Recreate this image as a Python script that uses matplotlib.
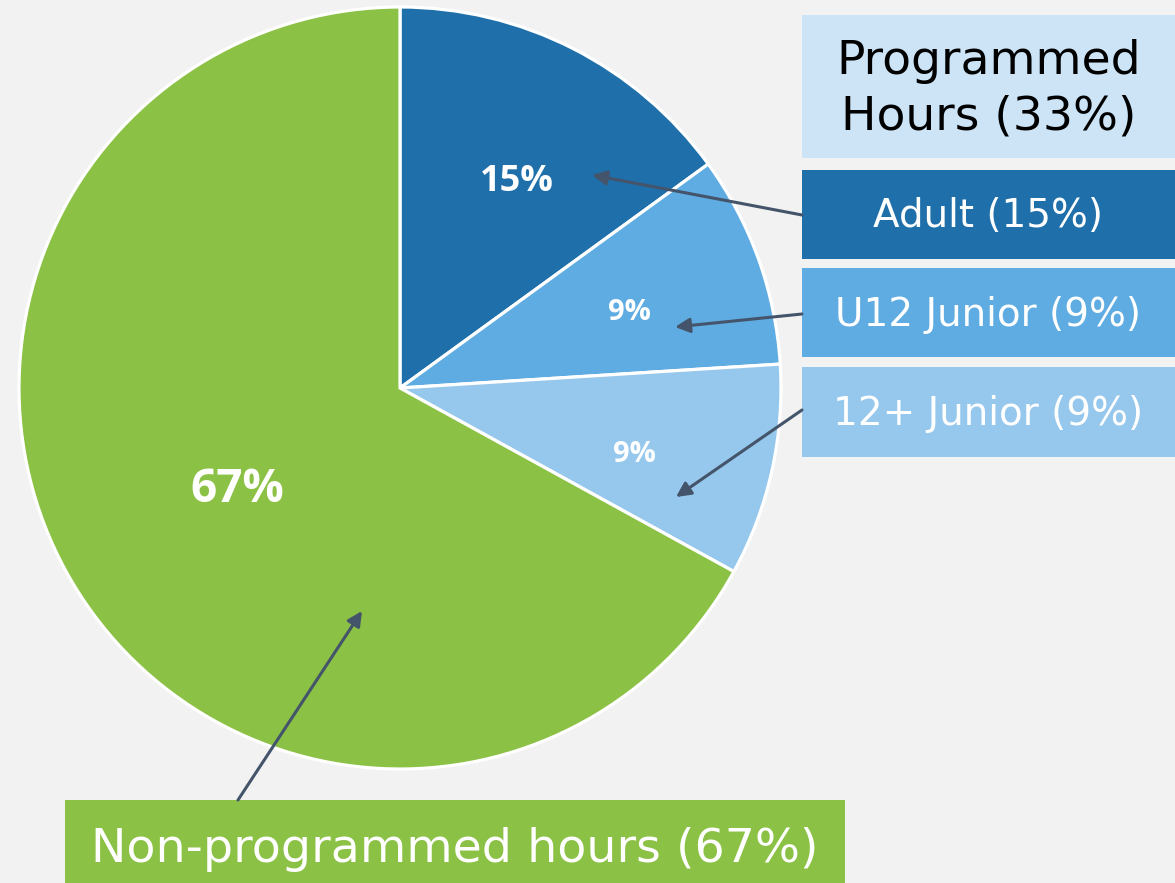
import matplotlib.pyplot as plt
from matplotlib.patches import Rectangle

H = 883

segments = ["Adult", "U12 Junior", "12+ Junior", "Non-programmed hours"]
shares = [15, 9, 9, 67]
colors = ["#1F6FAA", "#5FACE2", "#96C7EC", "#8BC145"]
pct_text = ["15%", "9%", "9%", "67%"]
box_text = ["Adult (15%)", "U12 Junior (9%)", "12+ Junior (9%)",
            "Non-programmed hours (67%)"]
header_text = "Programmed\nHours (33%)"

def py(y):
    # picture pixel row -> data y
    return H - y

fig = plt.figure(figsize=(11.75, 8.83), dpi=100, facecolor="#F2F2F2")
ax = fig.add_axes([0, 0, 1, 1])
ax.set_facecolor("#F2F2F2")

ax.pie(shares, colors=colors, startangle=90, counterclock=False,
       center=(400, py(388)), radius=381,
       wedgeprops=dict(edgecolor="white", linewidth=2.3))
ax.set_xlim(0, 1175)
ax.set_ylim(0, H)
ax.set_aspect("equal")
ax.axis("off")

# percentage labels in the slices
lab_pos = [(517, 182), (629, 312), (634, 455), (237, 490)]
lab_size = [26, 21, 21, 33]
for t, (x, y), s in zip(pct_text, lab_pos, lab_size):
    ax.text(x, py(y), t, color="white", fontsize=s, fontweight="bold",
            family="Open Sans", ha="center", va="center")

# header box
ax.add_patch(Rectangle((802, py(158)), 373, 143, color="#CCE4F6", lw=0))
ax.text(989, py(89), header_text, fontsize=34, color="black",
        ha="center", va="center", linespacing=1.3)

# right hand boxes
box_y = [(170, 259), (268, 357), (367, 457)]
for t, c, (y0, y1) in zip(box_text[:3], colors[:3], box_y):
    ax.add_patch(Rectangle((802, py(y1)), 373, y1 - y0, color=c, lw=0))
    ax.text(988, py((y0 + y1) / 2 + 2), t, fontsize=28, color="white",
            ha="center", va="center")

# bottom box
ax.add_patch(Rectangle((65, py(883)), 780, 83, color=colors[3], lw=0))
ax.text(455, py(849), box_text[3], fontsize=34.2, color="white",
        ha="center", va="center")

# arrows from boxes to slices
arrows = [((802, 215), (592, 175)), ((802, 314), (675, 327)),
          ((802, 410), (676, 497)), ((238, 800), (362, 611))]
for (x0, y0), (x1, y1) in arrows:
    ax.annotate("", xy=(x1, py(y1)), xytext=(x0, py(y0)),
                arrowprops=dict(arrowstyle="-|>", color="#44546A", lw=2.2,
                                mutation_scale=22, shrinkA=0, shrinkB=0))

fig.savefig("out.png", dpi=100, facecolor=fig.get_facecolor())
